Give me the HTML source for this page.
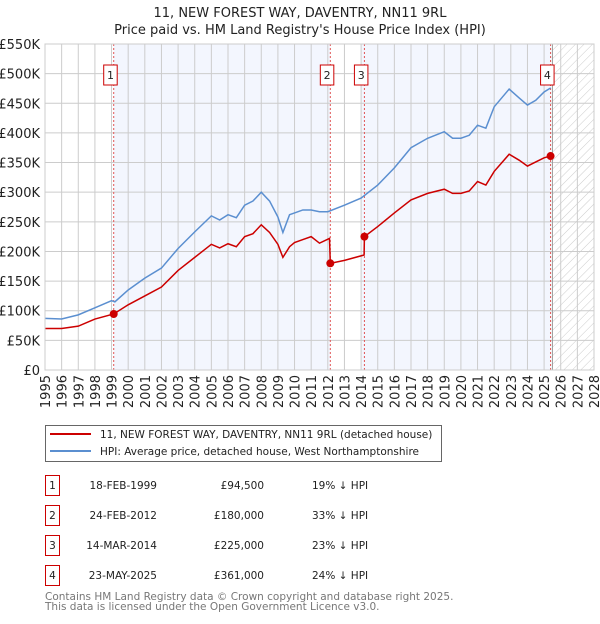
<!DOCTYPE html>
<html><head><meta charset="utf-8"><style>
body{margin:0;background:#fff;width:600px;height:620px;overflow:hidden;font-family:"DejaVu Sans","Liberation Sans",sans-serif}
svg text{font-family:"DejaVu Sans","Liberation Sans",sans-serif}
</style></head><body>
<svg id="c" width="600" height="620" viewBox="0 0 600 620"></svg>
<script>
const hpiYears=[1995,1996,1997,1998,1999,1999.2,2000,2001,2002,2003,2004,2005,2005.5,2006,2006.5,2007,2007.5,2008,2008.5,2009,2009.3,2009.7,2010,2010.5,2011,2011.5,2012,2013,2014,2015,2016,2017,2018,2019,2019.5,2020,2020.5,2021,2021.5,2022,2022.9,2023.5,2024,2024.5,2025,2025.4];
const hpiValues=[87,86,93,105,117,115,135,155,172,205,233,260,253,262,257,278,285,300,285,258,232,262,265,270,270,267,267,278,290,312,341,375,391,402,391,391,396,413,408,444,474,459,447,455,469,476];
const redYears=[1995,1996,1997,1998,1999.13,2000,2001,2002,2003,2004,2005,2005.5,2006,2006.5,2007,2007.5,2008,2008.5,2009,2009.3,2009.7,2010,2010.5,2011,2011.5,2012.1,2012.15,2013,2014.18,2014.2,2015,2016,2017,2018,2019,2019.5,2020,2020.5,2021,2021.5,2022,2022.9,2023.5,2024,2024.5,2025,2025.39];
const redValues=[70,70,74,86,94.5,110,125,140,168,190,212,206,213,208,225,230,245,232,212,190,208,215,220,225,214,222,180,185,194,225,242,265,287,298,305,298,298,302,318,312,335,364,354,344,351,358,361];
const saleYears=[1999.13,2012.15,2014.2,2025.39];
const saleValues=[94.5,180,225,361];
const saleLabels=["1","2","3","4"];
const yTicks=[0,50,100,150,200,250,300,350,400,450,500,550];
const yTickLabels=["£0","£50K","£100K","£150K","£200K","£250K","£300K","£350K","£400K","£450K","£500K","£550K"];
const xTicks=[1995,1996,1997,1998,1999,2000,2001,2002,2003,2004,2005,2006,2007,2008,2009,2010,2011,2012,2013,2014,2015,2016,2017,2018,2019,2020,2021,2022,2023,2024,2025,2026,2027,2028];
const tableDates=["18-FEB-1999","24-FEB-2012","14-MAR-2014","23-MAY-2025"];
const tablePrices=["£94,500","£180,000","£225,000","£361,000"];
const tablePct=["19% ↓ HPI","33% ↓ HPI","23% ↓ HPI","24% ↓ HPI"];

const L=45,R=594,T=44,B=370;
const X=y=>L+(y-1995)*(R-L)/33;
const Y=v=>B-v*(B-T)/550;
const NS="http://www.w3.org/2000/svg";
const svg=document.getElementById('c');
function mk(tag,attrs,parent){const e=document.createElementNS(NS,tag);for(const k in attrs)e.setAttribute(k,attrs[k]);(parent||svg).appendChild(e);return e;}

const defs=mk('defs',{});
const pat=mk('pattern',{id:'hatch',width:6,height:6,patternUnits:'userSpaceOnUse',patternTransform:'rotate(45)'},defs);
mk('line',{x1:0,y1:0,x2:0,y2:6,stroke:'#ccc','stroke-width':1},pat);

let s=mk('rect',{x:X(saleYears[0]),y:T,width:X(saleYears[1])-X(saleYears[0]),height:B-T,fill:'#f3f6fe'});

s=mk('rect',{x:X(2014),y:T,width:X(saleYears[3])-X(2014),height:B-T,fill:'#f3f6fe'});

s=mk('rect',{x:X(2025.5),y:T,width:R-X(2025.5),height:B-T,fill:'url(#hatch)'});


yTicks.forEach((v,i)=>{
  const l=mk('line',{x1:L,x2:R,y1:Y(v),y2:Y(v),stroke:'#cccccc','stroke-width':1});
  
  const t=mk('text',{x:L-5,y:Y(v)+5,'text-anchor':'end','font-size':13,fill:'#222'});
  t.textContent=yTickLabels[i];
  
});
xTicks.forEach(yr=>{
  const l=mk('line',{x1:X(yr),x2:X(yr),y1:T,y2:B,stroke:'#cccccc','stroke-width':1});
  
  const t=mk('text',{x:0,y:0,'text-anchor':'end','font-size':13,fill:'#222',transform:`translate(${X(yr)+5},${B+5}) rotate(-90)`});
  t.textContent=yr;
  
});
mk('line',{x1:X(2025.5),x2:X(2025.5),y1:T,y2:B,stroke:'#999','stroke-width':1});

saleYears.forEach((yr,i)=>{
  const l=mk('line',{x1:X(yr),x2:X(yr),y1:T,y2:B,stroke:'#e05555','stroke-width':1,'stroke-dasharray':'2,2'});
  
});

const hp=mk('polyline',{points:hpiYears.map((y,i)=>X(y)+','+Y(hpiValues[i])).join(' '),fill:'none',stroke:'#5b8fd0','stroke-width':1.5});

const rp=mk('polyline',{points:redYears.map((y,i)=>X(y)+','+Y(redValues[i])).join(' '),fill:'none',stroke:'#cc0000','stroke-width':1.5});


saleYears.forEach((yr,i)=>{
  const c=mk('circle',{cx:X(yr),cy:Y(saleValues[i]),r:4,fill:'#cc0000'});
  
  const g=mk('g',{});
  
  mk('rect',{x:X(yr)-10,y:65,width:13.5,height:20,fill:'#fff',stroke:'#cc0000','stroke-width':1},g);
  const t=mk('text',{x:X(yr)-3.2,y:79,'text-anchor':'middle','font-size':11,fill:'#222'},g);
  t.textContent=saleLabels[i];
});

mk('rect',{x:L,y:T,width:R-L,height:B-T,fill:'none',stroke:'#cccccc','stroke-width':1});

let t=mk('text',{x:300,y:17,'text-anchor':'middle','font-size':13,fill:'#222'});t.textContent='11, NEW FOREST WAY, DAVENTRY, NN11 9RL';

t=mk('text',{x:300,y:34,'text-anchor':'middle','font-size':13,fill:'#222'});t.textContent="Price paid vs. HM Land Registry's House Price Index (HPI)";


const lg=mk('g',{});
mk('rect',{x:45.5,y:425.5,width:396,height:36,fill:'#fff',stroke:'#666','stroke-width':1},lg);
mk('line',{x1:50,x2:91,y1:434,y2:434,stroke:'#cc0000','stroke-width':2},lg);
mk('line',{x1:50,x2:91,y1:451,y2:451,stroke:'#5b8fd0','stroke-width':2},lg);
t=mk('text',{x:100,y:438,'font-size':10.5,fill:'#222'},lg);t.textContent='11, NEW FOREST WAY, DAVENTRY, NN11 9RL (detached house)';

t=mk('text',{x:100,y:455,'font-size':10.5,fill:'#222'},lg);t.textContent='HPI: Average price, detached house, West Northamptonshire';


tableDates.forEach((d,i)=>{
  const y0=475+i*30;
  const g=mk('g',{});
  mk('rect',{x:45.5,y:y0+0.5,width:14,height:20,fill:'#fff',stroke:'#cc0000','stroke-width':1},g);
  let e=mk('text',{x:52.5,y:y0+14,'text-anchor':'middle','font-size':10.5,fill:'#222'},g);e.textContent=saleLabels[i];
  e=mk('text',{x:157,y:y0+14,'text-anchor':'end','font-size':10.5,fill:'#222'},g);e.textContent=d;
  e=mk('text',{x:264,y:y0+14,'text-anchor':'end','font-size':10.5,fill:'#222'},g);e.textContent=tablePrices[i];
  e=mk('text',{x:312,y:y0+14,'font-size':10.5,fill:'#222'},g);e.textContent=tablePct[i];
});
t=mk('text',{x:45,y:600,'font-size':10.5,fill:'#777'});t.textContent='Contains HM Land Registry data © Crown copyright and database right 2025.';

t=mk('text',{x:45,y:610,'font-size':10.5,fill:'#777'});t.textContent='This data is licensed under the Open Government Licence v3.0.';

</script>
</body></html>
